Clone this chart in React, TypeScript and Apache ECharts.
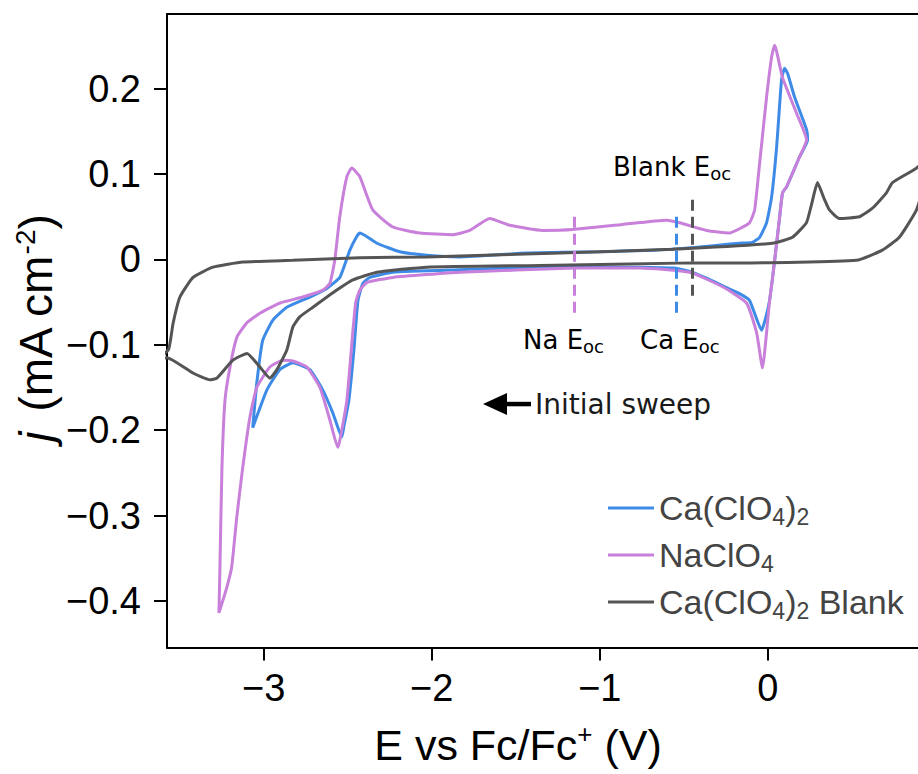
import { useEffect, useRef } from 'react';
import * as echarts from 'echarts';

// Cyclic voltammograms: potential (V vs Fc/Fc+) and current density (mA cm^-2), in sweep order
const caPotential = [
  -0.555, -0.764, -1.359, -1.834, -2.231, -2.368, -2.41, -2.439, -2.463, -2.493, -2.523, -2.535,
  -2.588, -2.648, -2.725, -2.826, -2.904, -2.981, -3.065, -3.041, -3.006, -2.945, -2.862, -2.725,
  -2.624, -2.547, -2.487, -2.446, -2.427, -2.326, -2.19, -2.029, -1.833, -1.435, -1.001, -0.568,
  -0.169, -0.092, -0.049, -0.008, 0.022, 0.052, 0.081, 0.099, 0.117, 0.159, 0.23, 0.236, 0.188,
  0.111, 0.087, 0.07, 0.052, 0.028, 0.01, -0.014, -0.037, -0.109, -0.169, -0.246, -0.365, -0.466,
  -0.555,
];
const caCurrent = [
  -0.01, -0.009, -0.009, -0.012, -0.015, -0.021, -0.028, -0.048, -0.106, -0.165, -0.196, -0.208,
  -0.18, -0.153, -0.129, -0.121, -0.129, -0.153, -0.197, -0.145, -0.095, -0.071, -0.056, -0.044,
  -0.034, -0.021, 0.011, 0.027, 0.031, 0.019, 0.009, 0.005, 0.003, 0.0075, 0.009, 0.012,
  0.019, 0.02, 0.026, 0.043, 0.073, 0.132, 0.21, 0.224, 0.218, 0.19, 0.152, 0.14, 0.12,
  0.085, 0.078, 0.05, 0.019, -0.021, -0.048, -0.069, -0.083, -0.048, -0.04, -0.033, -0.022, -0.014,
  -0.01,
];

const naPotential = [
  -1.15, -1.834, -2.231, -2.386, -2.428, -2.452, -2.47, -2.505, -2.547, -2.559, -2.606, -2.665,
  -2.743, -2.826, -2.885, -2.963, -3.041, -3.082, -3.124, -3.16, -3.19, -3.219, -3.266, -3.26,
  -3.248, -3.23, -3.2, -3.159, -3.099, -3.022, -2.903, -2.767, -2.648, -2.606, -2.577, -2.547,
  -2.505, -2.476, -2.428, -2.351, -2.231, -2.071, -1.875, -1.774, -1.655, -1.536, -1.34, -1.161,
  -0.864, -0.602, -0.525, -0.365, -0.228, -0.169, -0.109, -0.079, -0.049, -0.008, 0.022, 0.04,
  0.087, 0.171, 0.23, 0.188, 0.111, 0.087, 0.07, 0.052, 0.028, 0.01, -0.008, -0.032, -0.067,
  -0.127, -0.27, -0.466, -0.764, -1.15,
];
const naCurrent = [
  -0.01, -0.015, -0.021, -0.027, -0.036, -0.05, -0.086, -0.165, -0.212, -0.22, -0.188, -0.15,
  -0.126, -0.119, -0.118, -0.126, -0.15, -0.185, -0.243, -0.302, -0.36, -0.384, -0.414, -0.36,
  -0.243, -0.165, -0.126, -0.091, -0.074, -0.063, -0.051, -0.044, -0.036, -0.028, -0.001, 0.05,
  0.097, 0.107, 0.097, 0.058, 0.038, 0.031, 0.029, 0.034, 0.048, 0.04, 0.034, 0.035,
  0.041, 0.046, 0.043, 0.034, 0.031, 0.036, 0.043, 0.058, 0.113, 0.19, 0.237, 0.251,
  0.213, 0.171, 0.14, 0.12, 0.085, 0.078, 0.05, 0.019, -0.021, -0.048, -0.086, -0.127, -0.086,
  -0.051, -0.032, -0.015, -0.01, -0.01,
];

const blankPotential = [
  -0.448, -1.357, -2.029, -2.326, -2.469, -2.588, -2.707, -2.784, -2.826, -2.862, -2.921, -2.963,
  -3.022, -3.099, -3.183, -3.278, -3.32, -3.421, -3.575, -3.63, -3.565, -3.539, -3.498, -3.42,
  -3.301, -3.123, -2.826, -2.428, -2.029, -1.238, -0.568, 0.027, 0.146, 0.229, 0.259, 0.295,
  0.337, 0.366, 0.425, 0.545, 0.622, 0.705, 0.741, 0.884, 1.0, 0.95, 0.884, 0.782, 0.681, 0.527,
  -0.169, -0.448,
];
const blankCurrent = [
  -0.004, -0.007, -0.009, -0.015, -0.024, -0.039, -0.056, -0.067, -0.079, -0.106, -0.129, -0.139,
  -0.126, -0.11, -0.118, -0.139, -0.141, -0.133, -0.115, -0.118, -0.105, -0.075, -0.044, -0.021,
  -0.009, -0.003, -0.001, 0.002, 0.003, 0.0075, 0.012, 0.019, 0.026, 0.043, 0.064, 0.09,
  0.07, 0.058, 0.048, 0.05, 0.06, 0.078, 0.09, 0.107, 0.13, 0.1, 0.058, 0.026, 0.011, -0.001,
  -0.004, -0.004,
];

// Open-circuit potential markers (Ca, Na, Blank)
const eocPotential = [-0.545, -1.15, -0.449];
const eocTop = [0.05, 0.05, 0.07];
const eocBottom = [-0.065, -0.065, -0.044];

const xTicks = [-3, -2, -1, 0];
const yTicks = [-0.4, -0.3, -0.2, -0.1, 0, 0.1, 0.2];

const seriesNames = ['Ca(ClO4)2', 'NaClO4', 'Ca(ClO4)2 Blank'];
const legendLabels = ['{n|Ca(ClO}{s|4}{n|)}{s|2}', '{n|NaClO}{s|4}', '{n|Ca(ClO}{s|4}{n|)}{s|2}{n| Blank}'];
const colors = ['#3d8be6', '#c880da', '#555555'];

const X_MIN = -3.575;
const X_MAX = 0.893;
const Y_MIN = -0.4545;
const Y_MAX = 0.2875;

const SANS = '"Liberation Sans", Arial, sans-serif';
const DEJAVU = '"DejaVu Sans", sans-serif';

const zip = (xs: number[], ys: number[]) => xs.map((x, i) => [x, ys[i]]);
const minus = (s: string) => s.replace('-', '\u2212');

export default function App() {
  const ref = useRef<HTMLDivElement>(null);

  useEffect(() => {
    if (!ref.current) return;
    const chart = echarts.init(ref.current, undefined, { renderer: 'svg' });
    const potentials = [caPotential, naPotential, blankPotential];
    const currents = [caCurrent, naCurrent, blankCurrent];

    const series = seriesNames.map((name, i) => ({
      name,
      type: 'line',
      data: zip(potentials[i], currents[i]),
      showSymbol: false,
      symbol: 'none',
      smooth: 0.15,
      lineStyle: { color: colors[i], width: 3 },
      itemStyle: { color: colors[i] },
      z: 2 + i,
      markLine: {
        silent: true,
        symbol: ['none', 'none'],
        label: { show: false },
        lineStyle: { color: colors[i], type: [11, 6], width: 3 },
        data: [[{ coord: [eocPotential[i], eocTop[i]] }, { coord: [eocPotential[i], eocBottom[i]] }]],
      },
    }));

    const sub = { fontFamily: DEJAVU, fontSize: 18, color: '#1a1a1a', verticalAlign: 'bottom', lineHeight: 18 };
    const main = { fontFamily: DEJAVU, fontSize: 26, color: '#1a1a1a', lineHeight: 30 };

    chart.setOption({
      animation: false,
      grid: { left: 167, top: 14, right: 918 - 167 - 751, bottom: 774 - 647.5, containLabel: false },
      xAxis: [
        {
          type: 'value',
          min: X_MIN,
          max: X_MAX,
          position: 'bottom',
          axisLine: { show: true, onZero: false, lineStyle: { color: '#000', width: 2 } },
          axisTick: { show: true, customValues: xTicks, length: 13, lineStyle: { color: '#000', width: 2 } },
          axisLabel: {
            customValues: xTicks,
            formatter: (v: number) => minus(String(v)),
            fontFamily: SANS,
            fontSize: 38,
            color: '#000',
            margin: 21,
          },
          splitLine: { show: false },
        },
        {
          type: 'value',
          min: X_MIN,
          max: X_MAX,
          position: 'top',
          axisLine: { show: true, onZero: false, lineStyle: { color: '#000', width: 2 } },
          axisTick: { show: false },
          axisLabel: { show: false },
          splitLine: { show: false },
        },
      ],
      yAxis: {
        type: 'value',
        min: Y_MIN,
        max: Y_MAX,
        axisLine: { show: true, onZero: false, lineStyle: { color: '#000', width: 2 } },
        axisTick: { show: true, customValues: yTicks, length: 13, lineStyle: { color: '#000', width: 2 } },
        axisLabel: {
          customValues: yTicks,
          formatter: (v: number) => (Math.abs(v) < 1e-9 ? '0' : minus(v.toFixed(1))),
          fontFamily: SANS,
          fontSize: 38,
          color: '#000',
          margin: 26,
        },
        splitLine: { show: false },
      },
      legend: {
        orient: 'vertical',
        left: 603,
        top: 486,
        icon: 'rect',
        itemWidth: 46,
        itemHeight: 3,
        itemGap: 10,
        data: seriesNames,
        formatter: (name: string) => legendLabels[seriesNames.indexOf(name)],
        textStyle: {
          padding: [0, 0, 0, 0],
          rich: {
            n: { fontFamily: SANS, fontSize: 34, color: '#444', lineHeight: 40 },
            s: { fontFamily: SANS, fontSize: 23, color: '#444', verticalAlign: 'bottom', lineHeight: 22 },
          },
        },
      },
      graphic: [
        {
          type: 'text',
          x: 518,
          y: 745,
          style: {
            text: '{m|E vs Fc/Fc}{p|+}{m| (V)}',
            align: 'center',
            verticalAlign: 'middle',
            rich: {
              m: { fontFamily: SANS, fontSize: 43, fill: '#000', lineHeight: 48 },
              p: { fontFamily: SANS, fontSize: 26, fill: '#000', verticalAlign: 'top', lineHeight: 28 },
            },
          },
        },
        {
          type: 'text',
          x: 36,
          y: 328,
          rotation: Math.PI / 2,
          style: {
            text: '{i|j}{m| (mA cm}{p|-2}{m|)}',
            align: 'center',
            verticalAlign: 'middle',
            rich: {
              i: { fontFamily: SANS, fontSize: 46, fontStyle: 'italic', fill: '#000', lineHeight: 50, padding: [0, 6, 0, 0] },
              m: { fontFamily: SANS, fontSize: 46, fill: '#000', lineHeight: 50 },
              p: { fontFamily: SANS, fontSize: 28, fill: '#000', verticalAlign: 'top', lineHeight: 28 },
            },
          },
        },
        {
          type: 'text',
          left: 613,
          top: 154,
          style: { text: '{m|Blank E}{s|oc}', rich: { m: main, s: sub } },
        },
        {
          type: 'text',
          left: 523,
          top: 327,
          style: { text: '{m|Na E}{s|oc}', rich: { m: main, s: sub } },
        },
        {
          type: 'text',
          left: 640,
          top: 327,
          style: { text: '{m|Ca E}{s|oc}', rich: { m: main, s: sub } },
        },
        {
          type: 'text',
          left: 535,
          top: 390,
          style: { text: 'Initial sweep', font: `28px ${DEJAVU}`, fill: '#1a1a1a' },
        },
        {
          type: 'polygon',
          shape: { points: [[483, 404], [507, 393], [507, 415]] },
          style: { fill: '#000' },
        },
        {
          type: 'rect',
          shape: { x: 505, y: 401.8, width: 26, height: 4.5 },
          style: { fill: '#000' },
        },
      ],
      series,
    });

    return () => chart.dispose();
  }, []);

  return (
    <div
      ref={ref}
      style={{ position: 'fixed', left: 0, top: 0, width: 918, height: 774, background: '#fff' }}
    />
  );
}
